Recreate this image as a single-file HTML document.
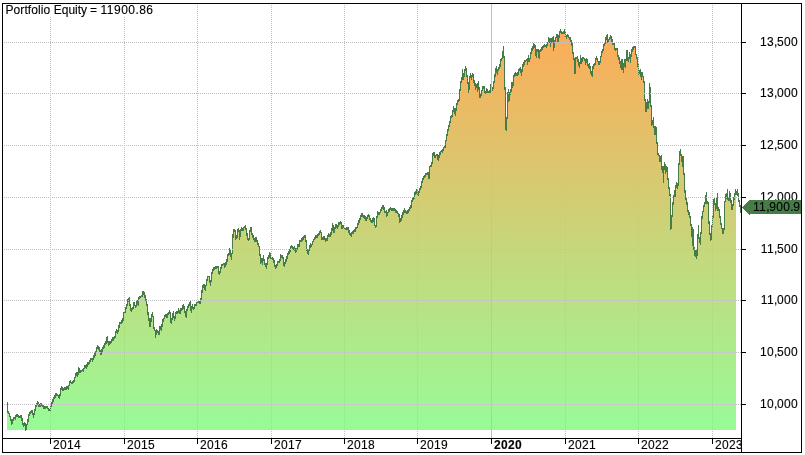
<!DOCTYPE html>
<html><head><meta charset="utf-8"><title>Portfolio Equity</title>
<style>
html,body{margin:0;padding:0;background:#fff;}
body{width:805px;height:455px;overflow:hidden;position:relative;}
svg{position:absolute;left:0;top:0;display:block;}
text{font-family:"Liberation Sans",Arial,sans-serif;font-size:12px;fill:#000;stroke:#000;stroke-width:0.12px;}
.n{letter-spacing:0.33px;}
</style></head><body>
<svg width="805" height="455" viewBox="0 0 805 455">
<defs>
<linearGradient id="g" gradientUnits="userSpaceOnUse" x1="0" y1="29" x2="0" y2="430">
<stop offset="0" stop-color="rgb(254,171,88)"/><stop offset="1" stop-color="rgb(152,251,152)"/>
</linearGradient>
<clipPath id="cx"><rect x="3" y="439" width="738" height="13"/></clipPath>
</defs>
<rect x="0" y="0" width="805" height="455" fill="#fff"/>
<polygon shape-rendering="crispEdges" fill="url(#g)" points="7,430 7,402 8,402 8,411 9,411 9,413 10,413 10,416 11,416 11,419 12,419 12,419 13,419 13,417 14,417 14,417 15,417 15,415 16,415 16,414 17,414 17,414 18,414 18,415 19,415 19,416 20,416 20,415 21,415 21,415 22,415 22,418 23,418 23,423 24,423 24,422 25,422 25,423 26,423 26,424 27,424 27,419 28,419 28,414 29,414 29,412 30,412 30,411 31,411 31,410 32,410 32,410 33,410 33,413 34,413 34,409 35,409 35,405 36,405 36,403 37,403 37,401 38,401 38,402 39,402 39,404 40,404 40,403 41,403 41,403 42,403 42,404 43,404 43,405 44,405 44,406 45,406 45,406 46,406 46,406 47,406 47,406 48,406 48,408 49,408 49,409 50,409 50,405 51,405 51,402 52,402 52,399 53,399 53,397 54,397 54,395 55,395 55,393 56,393 56,393 57,393 57,394 58,394 58,395 59,395 59,394 60,394 60,388 61,388 61,386 62,386 62,387 63,387 63,388 64,388 64,387 65,387 65,387 66,387 66,386 67,386 67,386 68,386 68,385 69,385 69,381 70,381 70,380 71,380 71,382 72,382 72,381 73,381 73,380 74,380 74,377 75,377 75,373 76,373 76,372 77,372 77,372 78,372 78,367 79,367 79,368 80,368 80,370 81,370 81,370 82,370 82,369 83,369 83,368 84,368 84,365 85,365 85,365 86,365 86,364 87,364 87,362 88,362 88,362 89,362 89,360 90,360 90,358 91,358 91,358 92,358 92,358 93,358 93,355 94,355 94,353 95,353 95,351 96,351 96,347 97,347 97,345 98,345 98,346 99,346 99,347 100,347 100,350 101,350 101,349 102,349 102,347 103,347 103,345 104,345 104,343 105,343 105,341 106,341 106,337 107,337 107,336 108,336 108,341 109,341 109,341 110,341 110,341 111,341 111,339 112,339 112,337 113,337 113,337 114,337 114,336 115,336 115,331 116,331 116,329 117,329 117,330 118,330 118,325 119,325 119,322 120,322 120,322 121,322 121,320 122,320 122,318 123,318 123,312 124,312 124,311 125,311 125,307 126,307 126,304 127,304 127,299 128,299 128,298 129,298 129,297 130,297 130,304 131,304 131,308 132,308 132,307 133,307 133,302 134,302 134,302 135,302 135,305 136,305 136,301 137,301 137,300 138,300 138,297 139,297 139,296 140,296 140,296 141,296 141,295 142,295 142,291 143,291 143,291 144,291 144,292 145,292 145,295 146,295 146,299 147,299 147,304 148,304 148,312 149,312 149,318 150,318 150,318 151,318 151,314 152,314 152,312 153,312 153,316 154,316 154,327 155,327 155,330 156,330 156,329 157,329 157,330 158,330 158,331 159,331 159,326 160,326 160,326 161,326 161,324 162,324 162,319 163,319 163,318 164,318 164,315 165,315 165,314 166,314 166,314 167,314 167,313 168,313 168,312 169,312 169,310 170,310 170,312 171,312 171,318 172,318 172,313 173,313 173,311 174,311 174,316 175,316 175,312 176,312 176,311 177,311 177,311 178,311 178,308 179,308 179,310 180,310 180,308 181,308 181,308 182,308 182,305 183,305 183,304 184,304 184,306 185,306 185,311 186,311 186,309 187,309 187,306 188,306 188,304 189,304 189,302 190,302 190,301 191,301 191,306 192,306 192,304 193,304 193,307 194,307 194,304 195,304 195,304 196,304 196,302 197,302 197,301 198,301 198,300 199,300 199,301 200,301 200,298 201,298 201,290 202,290 202,285 203,285 203,284 204,284 204,284 205,284 205,285 206,285 206,279 207,279 207,276 208,276 208,276 209,276 209,276 210,276 210,280 211,280 211,272 212,272 212,269 213,269 213,267 214,267 214,267 215,267 215,266 216,266 216,266 217,266 217,266 218,266 218,266 219,266 219,271 220,271 220,267 221,267 221,264 222,264 222,264 223,264 223,263 224,263 224,263 225,263 225,262 226,262 226,259 227,259 227,254 228,254 228,253 229,253 229,248 230,248 230,250 231,250 231,253 232,253 232,234 233,234 233,229 234,229 234,229 235,229 235,230 236,230 236,235 237,235 237,229 238,229 238,228 239,228 239,230 240,230 240,229 241,229 241,227 242,227 242,228 243,228 243,227 244,227 244,226 245,226 245,225 246,225 246,228 247,228 247,233 248,233 248,238 249,238 249,230 250,230 250,227 251,227 251,227 252,227 252,233 253,233 253,235 254,235 254,238 255,238 255,237 256,237 256,237 257,237 257,240 258,240 258,243 259,243 259,246 260,246 260,254 261,254 261,258 262,258 262,258 263,258 263,255 264,255 264,259 265,259 265,263 266,263 266,263 267,263 267,257 268,257 268,255 269,255 269,252 270,252 270,253 271,253 271,257 272,257 272,257 273,257 273,258 274,258 274,260 275,260 275,265 276,265 276,264 277,264 277,261 278,261 278,261 279,261 279,259 280,259 280,254 281,254 281,255 282,255 282,255 283,255 283,257 284,257 284,262 285,262 285,259 286,259 286,256 287,256 287,253 288,253 288,251 289,251 289,249 290,249 290,246 291,246 291,245 292,245 292,246 293,246 293,247 294,247 294,246 295,246 295,248 296,248 296,248 297,248 297,244 298,244 298,244 299,244 299,240 300,240 300,240 301,240 301,238 302,238 302,237 303,237 303,236 304,236 304,235 305,235 305,235 306,235 306,240 307,240 307,249 308,249 308,249 309,249 309,245 310,245 310,243 311,243 311,244 312,244 312,241 313,241 313,239 314,239 314,237 315,237 315,235 316,235 316,235 317,235 317,234 318,234 318,233 319,233 319,231 320,231 320,230 321,230 321,232 322,232 322,237 323,237 323,236 324,236 324,236 325,236 325,238 326,238 326,238 327,238 327,235 328,235 328,233 329,233 329,234 330,234 330,232 331,232 331,228 332,228 332,223 333,223 333,225 334,225 334,227 335,227 335,224 336,224 336,224 337,224 337,225 338,225 338,222 339,222 339,222 340,222 340,221 341,221 341,222 342,222 342,225 343,225 343,225 344,225 344,227 345,227 345,228 346,228 346,227 347,227 347,227 348,227 348,227 349,227 349,230 350,230 350,233 351,233 351,232 352,232 352,231 353,231 353,230 354,230 354,229 355,229 355,227 356,227 356,227 357,227 357,223 358,223 358,220 359,220 359,218 360,218 360,215 361,215 361,213 362,213 362,213 363,213 363,215 364,215 364,215 365,215 365,216 366,216 366,217 367,217 367,215 368,215 368,214 369,214 369,215 370,215 370,218 371,218 371,220 372,220 372,218 373,218 373,217 374,217 374,218 375,218 375,225 376,225 376,216 377,216 377,211 378,211 378,212 379,212 379,212 380,212 380,209 381,209 381,207 382,207 382,205 383,205 383,205 384,205 384,207 385,207 385,211 386,211 386,210 387,210 387,212 388,212 388,209 389,209 389,208 390,208 390,207 391,207 391,208 392,208 392,208 393,208 393,208 394,208 394,208 395,208 395,209 396,209 396,210 397,210 397,211 398,211 398,213 399,213 399,214 400,214 400,218 401,218 401,215 402,215 402,212 403,212 403,210 404,210 404,208 405,208 405,210 406,210 406,211 407,211 407,210 408,210 408,209 409,209 409,207 410,207 410,205 411,205 411,200 412,200 412,198 413,198 413,197 414,197 414,192 415,192 415,191 416,191 416,189 417,189 417,190 418,190 418,191 419,191 419,188 420,188 420,186 421,186 421,181 422,181 422,178 423,178 423,176 424,176 424,175 425,175 425,173 426,173 426,173 427,173 427,172 428,172 428,172 429,172 429,166 430,166 430,165 431,165 431,162 432,162 432,153 433,153 433,152 434,152 434,152 435,152 435,155 436,155 436,154 437,154 437,154 438,154 438,155 439,155 439,152 440,152 440,151 441,151 441,150 442,150 442,149 443,149 443,147 444,147 444,146 445,146 445,140 446,140 446,134 447,134 447,129 448,129 448,125 449,125 449,121 450,121 450,116 451,116 451,115 452,115 452,110 453,110 453,106 454,106 454,108 455,108 455,108 456,108 456,103 457,103 457,100 458,100 458,99 459,99 459,89 460,89 460,81 461,81 461,77 462,77 462,69 463,69 463,73 464,73 464,69 465,69 465,66 466,66 466,68 467,68 467,75 468,75 468,82 469,82 469,76 470,76 470,73 471,73 471,75 472,75 472,73 473,73 473,74 474,74 474,80 475,80 475,83 476,83 476,84 477,84 477,83 478,83 478,81 479,81 479,87 480,87 480,93 481,93 481,90 482,90 482,86 483,86 483,86 484,86 484,86 485,86 485,91 486,91 486,88 487,88 487,89 488,89 488,91 489,91 489,90 490,90 490,84 491,84 491,86 492,86 492,87 493,87 493,81 494,81 494,74 495,74 495,68 496,68 496,66 497,66 497,69 498,69 498,67 499,67 499,64 500,64 500,59 501,59 501,58 502,58 502,51 503,51 503,46 504,46 504,56 505,56 505,87 506,87 506,117 507,117 507,92 508,92 508,89 509,89 509,92 510,92 510,89 511,89 511,82 512,82 512,82 513,82 513,75 514,75 514,73 515,73 515,72 516,72 516,73 517,73 517,72 518,72 518,69 519,69 519,68 520,68 520,67 521,67 521,69 522,69 522,64 523,64 523,62 524,62 524,60 525,60 525,60 526,60 526,59 527,59 527,58 528,58 528,55 529,55 529,58 530,58 530,52 531,52 531,48 532,48 532,46 533,46 533,43 534,43 534,44 535,44 535,45 536,45 536,49 537,49 537,49 538,49 538,49 539,49 539,50 540,50 540,49 541,49 541,47 542,47 542,46 543,46 543,45 544,45 544,44 545,44 545,45 546,45 546,44 547,44 547,42 548,42 548,37 549,37 549,38 550,38 550,38 551,38 551,38 552,38 552,37 553,37 553,36 554,36 554,40 555,40 555,37 556,37 556,34 557,34 557,34 558,34 558,35 559,35 559,31 560,31 560,29 561,29 561,31 562,31 562,32 563,32 563,31 564,31 564,29 565,29 565,32 566,32 566,35 567,35 567,34 568,34 568,35 569,35 569,37 570,37 570,37 571,37 571,40 572,40 572,43 573,43 573,52 574,52 574,58 575,58 575,57 576,57 576,57 577,57 577,56 578,56 578,59 579,59 579,62 580,62 580,55 581,55 581,58 582,58 582,57 583,57 583,57 584,57 584,58 585,58 585,59 586,59 586,58 587,58 587,59 588,59 588,64 589,64 589,63 590,63 590,66 591,66 591,71 592,71 592,66 593,66 593,64 594,64 594,63 595,63 595,58 596,58 596,56 597,56 597,58 598,58 598,61 599,61 599,61 600,61 600,56 601,56 601,51 602,51 602,49 603,49 603,44 604,44 604,42 605,42 605,37 606,37 606,35 607,35 607,34 608,34 608,39 609,39 609,37 610,37 610,35 611,35 611,36 612,36 612,39 613,39 613,43 614,43 614,43 615,43 615,48 616,48 616,48 617,48 617,48 618,48 618,55 619,55 619,57 620,57 620,61 621,61 621,59 622,59 622,59 623,59 623,63 624,63 624,59 625,59 625,59 626,59 626,50 627,50 627,50 628,50 628,57 629,57 629,52 630,52 630,54 631,54 631,49 632,49 632,47 633,47 633,46 634,46 634,46 635,46 635,46 636,46 636,54 637,54 637,57 638,57 638,64 639,64 639,70 640,70 640,69 641,69 641,72 642,72 642,72 643,72 643,76 644,76 644,81 645,81 645,99 646,99 646,102 647,102 647,99 648,99 648,101 649,101 649,83 650,83 650,87 651,87 651,105 652,105 652,120 653,120 653,117 654,117 654,126 655,126 655,126 656,126 656,127 657,127 657,142 658,142 658,153 659,153 659,155 660,155 660,156 661,156 661,155 662,155 662,166 663,166 663,166 664,166 664,162 665,162 665,164 666,164 666,166 667,166 667,167 668,167 668,178 669,178 669,187 670,187 670,194 671,194 671,215 672,215 672,202 673,202 673,195 674,195 674,190 675,190 675,185 676,185 676,182 677,182 677,183 678,183 678,163 679,163 679,151 680,151 680,149 681,149 681,154 682,154 682,156 683,156 683,156 684,156 684,173 685,173 685,190 686,190 686,198 687,198 687,202 688,202 688,210 689,210 689,212 690,212 690,216 691,216 691,224 692,224 692,227 693,227 693,229 694,229 694,247 695,247 695,250 696,250 696,250 697,250 697,234 698,234 698,225 699,225 699,237 700,237 700,232 701,232 701,216 702,216 702,211 703,211 703,205 704,205 704,202 705,202 705,195 706,195 706,192 707,192 707,201 708,201 708,202 709,202 709,221 710,221 710,233 711,233 711,225 712,225 712,216 713,216 713,199 714,199 714,198 715,198 715,203 716,203 716,198 717,198 717,193 718,193 718,207 719,207 719,209 720,209 720,216 721,216 721,223 722,223 722,228 723,228 723,228 724,228 724,201 725,201 725,194 726,194 726,193 727,193 727,189 728,189 728,197 729,197 729,191 730,191 730,193 731,193 731,200 732,200 732,204 733,204 733,197 734,197 734,193 735,193 735,189 736,189 736,430"/>
<path shape-rendering="crispEdges" fill="none" stroke="#457c47" stroke-width="1" d="M7.5 402v11M8.5 411v3M9.5 413v4M10.5 416v5M11.5 419v6M12.5 419v5M13.5 417v4M14.5 417v2M15.5 415v5M16.5 414v3M17.5 414v3M18.5 415v3M19.5 416v2M20.5 415v3M21.5 415v6M22.5 418v7M23.5 423v4M24.5 422v4M25.5 423v8M26.5 424v6M27.5 419v6M28.5 414v8M29.5 412v4M30.5 411v3M31.5 410v3M32.5 410v5M33.5 413v5M34.5 409v6M35.5 405v6M36.5 403v4M37.5 401v4M38.5 402v5M39.5 404v3M40.5 403v4M41.5 403v3M42.5 404v3M43.5 405v4M44.5 406v3M45.5 406v3M46.5 406v2M47.5 406v3M48.5 408v3M49.5 409v2M50.5 405v7M51.5 402v5M52.5 399v5M53.5 397v5M54.5 395v4M55.5 393v5M56.5 393v3M57.5 394v2M58.5 395v3M59.5 394v5M60.5 388v8M61.5 386v4M62.5 387v4M63.5 388v3M64.5 387v3M65.5 387v3M66.5 386v4M67.5 386v3M68.5 385v5M69.5 381v5M70.5 380v3M71.5 382v2M72.5 381v3M73.5 380v3M74.5 377v5M75.5 373v5M76.5 372v4M77.5 372v5M78.5 367v8M79.5 368v5M80.5 370v3M81.5 370v2M82.5 369v2M83.5 368v4M84.5 365v4M85.5 365v3M86.5 364v5M87.5 362v5M88.5 362v3M89.5 360v4M90.5 358v4M91.5 358v2M92.5 358v4M93.5 355v5M94.5 353v5M95.5 351v5M96.5 347v5M97.5 345v4M98.5 346v4M99.5 347v5M100.5 350v5M101.5 349v6M102.5 347v5M103.5 345v4M104.5 343v5M105.5 341v4M106.5 337v7M107.5 336v7M108.5 341v5M109.5 341v4M110.5 341v3M111.5 339v4M112.5 337v4M113.5 337v4M114.5 336v3M115.5 331v7M116.5 329v4M117.5 330v4M118.5 325v7M119.5 322v6M120.5 322v2M121.5 320v4M122.5 318v5M123.5 312v9M124.5 311v3M125.5 307v6M126.5 304v5M127.5 299v7M128.5 298v4M129.5 297v9M130.5 304v7M131.5 308v4M132.5 307v3M133.5 302v7M134.5 302v4M135.5 305v3M136.5 301v6M137.5 300v5M138.5 297v9M139.5 296v3M140.5 296v2M141.5 295v2M142.5 291v6M143.5 291v4M144.5 292v6M145.5 295v6M146.5 299v7M147.5 304v11M148.5 312v9M149.5 318v9M150.5 318v9M151.5 314v8M152.5 312v5M153.5 316v13M154.5 327v4M155.5 330v8M156.5 329v6M157.5 330v3M158.5 331v4M159.5 326v9M160.5 326v4M161.5 324v7M162.5 319v8M163.5 318v4M164.5 315v4M165.5 314v3M166.5 314v4M167.5 313v5M168.5 312v3M169.5 310v4M170.5 312v11M171.5 318v6M172.5 313v7M173.5 311v7M174.5 316v5M175.5 312v7M176.5 311v3M177.5 311v3M178.5 308v5M179.5 310v4M180.5 308v6M181.5 308v3M182.5 305v5M183.5 304v5M184.5 306v7M185.5 311v6M186.5 309v9M187.5 306v5M188.5 304v4M189.5 302v4M190.5 301v10M191.5 306v7M192.5 304v5M193.5 307v3M194.5 304v5M195.5 304v2M196.5 302v4M197.5 301v3M198.5 300v3M199.5 301v3M200.5 298v6M201.5 290v10M202.5 285v8M203.5 284v4M204.5 284v6M205.5 285v6M206.5 279v7M207.5 276v5M208.5 276v1M209.5 276v7M210.5 280v6M211.5 272v10M212.5 269v5M213.5 267v4M214.5 267v3M215.5 266v3M216.5 266v3M217.5 266v2M218.5 266v8M219.5 271v4M220.5 267v6M221.5 264v5M222.5 264v2M223.5 263v2M224.5 263v5M225.5 262v5M226.5 259v6M227.5 254v8M228.5 253v3M229.5 248v7M230.5 250v7M231.5 253v7M232.5 234v20M233.5 229v9M234.5 229v3M235.5 230v10M236.5 235v4M237.5 229v9M238.5 228v4M239.5 230v10M240.5 229v8M241.5 227v4M242.5 228v3M243.5 227v4M244.5 226v2M245.5 225v5M246.5 228v8M247.5 233v7M248.5 238v3M249.5 230v10M250.5 227v5M251.5 227v8M252.5 233v5M253.5 235v5M254.5 238v4M255.5 237v5M256.5 237v5M257.5 240v5M258.5 243v4M259.5 246v10M260.5 254v10M261.5 258v5M262.5 258v7M263.5 255v6M264.5 259v6M265.5 263v4M266.5 263v6M267.5 257v8M268.5 255v4M269.5 252v6M270.5 253v6M271.5 257v3M272.5 257v3M273.5 258v5M274.5 260v7M275.5 265v4M276.5 264v4M277.5 261v5M278.5 261v2M279.5 259v4M280.5 254v7M281.5 255v3M282.5 255v4M283.5 257v9M284.5 262v5M285.5 259v5M286.5 256v6M287.5 253v6M288.5 251v4M289.5 249v5M290.5 246v6M291.5 245v3M292.5 246v3M293.5 247v3M294.5 246v5M295.5 248v5M296.5 248v4M297.5 244v6M298.5 244v3M299.5 240v7M300.5 240v2M301.5 238v4M302.5 237v4M303.5 236v4M304.5 235v3M305.5 235v7M306.5 240v11M307.5 249v5M308.5 249v6M309.5 245v6M310.5 243v5M311.5 244v3M312.5 241v4M313.5 239v3M314.5 237v3M315.5 235v4M316.5 235v3M317.5 234v4M318.5 233v3M319.5 231v4M320.5 230v3M321.5 232v8M322.5 237v3M323.5 236v4M324.5 236v4M325.5 238v4M326.5 238v3M327.5 235v6M328.5 233v4M329.5 234v3M330.5 232v5M331.5 228v7M332.5 223v8M333.5 225v8M334.5 227v6M335.5 224v5M336.5 224v4M337.5 225v4M338.5 222v5M339.5 222v3M340.5 221v3M341.5 222v7M342.5 225v4M343.5 225v3M344.5 227v3M345.5 228v2M346.5 227v3M347.5 227v3M348.5 227v6M349.5 230v5M350.5 233v3M351.5 232v5M352.5 231v3M353.5 230v4M354.5 229v3M355.5 227v5M356.5 227v2M357.5 223v5M358.5 220v5M359.5 218v5M360.5 215v5M361.5 213v4M362.5 213v4M363.5 215v3M364.5 215v4M365.5 216v5M366.5 217v4M367.5 215v4M368.5 214v3M369.5 215v5M370.5 218v4M371.5 220v3M372.5 218v5M373.5 217v5M374.5 218v8M375.5 225v3M376.5 216v11M377.5 211v7M378.5 212v3M379.5 212v3M380.5 209v4M381.5 207v4M382.5 205v4M383.5 205v5M384.5 207v6M385.5 211v2M386.5 210v7M387.5 212v4M388.5 209v4M389.5 208v4M390.5 207v3M391.5 208v3M392.5 208v3M393.5 208v3M394.5 208v3M395.5 209v4M396.5 210v3M397.5 211v3M398.5 213v4M399.5 214v9M400.5 218v4M401.5 215v6M402.5 212v6M403.5 210v5M404.5 208v5M405.5 210v3M406.5 211v3M407.5 210v4M408.5 209v4M409.5 207v4M410.5 205v4M411.5 200v8M412.5 198v4M413.5 197v3M414.5 192v7M415.5 191v4M416.5 189v5M417.5 190v6M418.5 191v5M419.5 188v5M420.5 186v4M421.5 181v7M422.5 178v5M423.5 176v4M424.5 175v3M425.5 173v4M426.5 173v2M427.5 172v3M428.5 172v7M429.5 166v13M430.5 165v2M431.5 162v5M432.5 153v11M433.5 152v4M434.5 152v6M435.5 155v3M436.5 154v2M437.5 154v6M438.5 155v6M439.5 152v6M440.5 151v4M441.5 150v2M442.5 149v4M443.5 147v4M444.5 146v2M445.5 140v8M446.5 134v7M447.5 129v7M448.5 125v6M449.5 121v6M450.5 116v7M451.5 115v3M452.5 110v7M453.5 106v6M454.5 108v6M455.5 108v8M456.5 103v8M457.5 100v5M458.5 99v3M459.5 89v12M460.5 81v10M461.5 77v6M462.5 69v11M463.5 73v7M464.5 69v8M465.5 66v5M466.5 68v9M467.5 75v9M468.5 82v11M469.5 76v14M470.5 73v5M471.5 75v5M472.5 73v4M473.5 74v9M474.5 80v6M475.5 83v7M476.5 84v4M477.5 83v9M478.5 81v9M479.5 87v11M480.5 93v5M481.5 90v6M482.5 86v5M483.5 86v3M484.5 86v7M485.5 91v3M486.5 88v6M487.5 89v4M488.5 91v2M489.5 90v3M490.5 84v9M491.5 86v5M492.5 87v4M493.5 81v8M494.5 74v9M495.5 68v9M496.5 66v7M497.5 69v6M498.5 67v4M499.5 64v5M500.5 59v8M501.5 58v3M502.5 51v8M503.5 46v12M504.5 56v34M505.5 87v43M506.5 117v14M507.5 92v27M508.5 89v13M509.5 92v9M510.5 89v6M511.5 82v10M512.5 82v6M513.5 75v11M514.5 73v4M515.5 72v4M516.5 73v3M517.5 72v4M518.5 69v6M519.5 68v3M520.5 67v6M521.5 69v7M522.5 64v8M523.5 62v5M524.5 60v5M525.5 60v2M526.5 59v2M527.5 58v7M528.5 55v7M529.5 58v4M530.5 52v7M531.5 48v6M532.5 46v5M533.5 43v6M534.5 44v4M535.5 45v11M536.5 49v9M537.5 49v3M538.5 49v9M539.5 50v9M540.5 49v3M541.5 47v4M542.5 46v4M543.5 45v3M544.5 44v3M545.5 45v2M546.5 44v4M547.5 42v4M548.5 37v6M549.5 38v5M550.5 38v9M551.5 38v5M552.5 37v6M553.5 36v15M554.5 40v8M555.5 37v5M556.5 34v4M557.5 34v8M558.5 35v7M559.5 31v7M560.5 29v4M561.5 31v3M562.5 32v2M563.5 31v3M564.5 29v5M565.5 32v5M566.5 35v4M567.5 34v3M568.5 35v3M569.5 37v3M570.5 37v5M571.5 40v6M572.5 43v11M573.5 52v8M574.5 58v16M575.5 57v17M576.5 57v2M577.5 56v6M578.5 59v7M579.5 62v6M580.5 55v9M581.5 58v6M582.5 57v5M583.5 57v2M584.5 58v3M585.5 59v6M586.5 58v5M587.5 59v7M588.5 64v4M589.5 63v6M590.5 66v8M591.5 71v5M592.5 66v11M593.5 64v5M594.5 63v3M595.5 58v7M596.5 56v4M597.5 58v4M598.5 61v4M599.5 61v4M600.5 56v7M601.5 51v6M602.5 49v4M603.5 44v7M604.5 42v4M605.5 37v7M606.5 35v5M607.5 34v9M608.5 39v3M609.5 37v3M610.5 35v4M611.5 36v6M612.5 39v6M613.5 43v2M614.5 43v7M615.5 48v3M616.5 48v2M617.5 48v9M618.5 55v5M619.5 57v7M620.5 61v7M621.5 59v11M622.5 59v11M623.5 63v10M624.5 59v8M625.5 59v9M626.5 50v11M627.5 50v11M628.5 57v5M629.5 52v7M630.5 54v9M631.5 49v8M632.5 47v5M633.5 46v4M634.5 46v2M635.5 46v9M636.5 54v5M637.5 57v10M638.5 64v11M639.5 70v4M640.5 69v8M641.5 72v8M642.5 72v5M643.5 76v7M644.5 81v20M645.5 99v13M646.5 102v10M647.5 99v10M648.5 101v8M649.5 83v20M650.5 87v20M651.5 105v21M652.5 120v5M653.5 117v11M654.5 126v9M655.5 126v9M656.5 127v17M657.5 142v13M658.5 153v3M659.5 155v7M660.5 156v6M661.5 155v15M662.5 166v7M663.5 166v17M664.5 162v8M665.5 164v10M666.5 166v6M667.5 167v13M668.5 178v11M669.5 187v9M670.5 194v36M671.5 215v14M672.5 202v15M673.5 195v10M674.5 190v7M675.5 185v12M676.5 182v6M677.5 183v6M678.5 163v23M679.5 151v14M680.5 149v7M681.5 154v8M682.5 156v11M683.5 156v19M684.5 173v20M685.5 190v10M686.5 198v7M687.5 202v10M688.5 210v5M689.5 212v6M690.5 216v10M691.5 224v13M692.5 227v19M693.5 229v21M694.5 247v9M695.5 250v7M696.5 250v9M697.5 234v22M698.5 225v14M699.5 237v6M700.5 232v13M701.5 216v18M702.5 211v8M703.5 205v7M704.5 202v5M705.5 195v9M706.5 192v12M707.5 201v3M708.5 202v22M709.5 221v14M710.5 233v8M711.5 225v15M712.5 216v11M713.5 199v19M714.5 198v7M715.5 203v8M716.5 198v11M717.5 193v18M718.5 207v4M719.5 209v9M720.5 216v9M721.5 223v6M722.5 228v6M723.5 228v6M724.5 201v29M725.5 194v8M726.5 193v6M727.5 189v11M728.5 197v4M729.5 191v10M730.5 193v10M731.5 200v10M732.5 204v6M733.5 197v9M734.5 193v7M735.5 189v6M736.5 191v4M737.5 189v7M738.5 193v9M739.5 200v7M740.5 205v8"/>
<g shape-rendering="crispEdges" stroke="#c0c0c0" stroke-width="1" stroke-dasharray="1 1" fill="none">
<line x1="4" y1="42.5" x2="741" y2="42.5"/>
<line x1="4" y1="93.5" x2="741" y2="93.5"/>
<line x1="4" y1="145.5" x2="741" y2="145.5"/>
<line x1="4" y1="197.5" x2="741" y2="197.5"/>
<line x1="4" y1="249.5" x2="741" y2="249.5"/>
<line x1="4" y1="300.5" x2="741" y2="300.5"/>
<line x1="4" y1="352.5" x2="741" y2="352.5"/>
<line x1="4" y1="404.5" x2="741" y2="404.5"/>
<line x1="50.5" y1="5" x2="50.5" y2="438"/>
<line x1="124.5" y1="5" x2="124.5" y2="438"/>
<line x1="197.5" y1="5" x2="197.5" y2="438"/>
<line x1="271.5" y1="5" x2="271.5" y2="438"/>
<line x1="344.5" y1="5" x2="344.5" y2="438"/>
<line x1="417.5" y1="5" x2="417.5" y2="438"/>
<line x1="565.5" y1="5" x2="565.5" y2="438"/>
<line x1="638.5" y1="5" x2="638.5" y2="438"/>
<line x1="712.5" y1="5" x2="712.5" y2="438"/>
</g>
<line shape-rendering="crispEdges" stroke="#c0c0c0" stroke-width="1" x1="491.5" y1="4" x2="491.5" y2="438"/>
<g shape-rendering="crispEdges" stroke="#000" stroke-width="1" fill="none">
<line x1="741.5" y1="4" x2="741.5" y2="452"/>
<line x1="3" y1="438.5" x2="741" y2="438.5"/>
<line x1="742" y1="42.5" x2="746" y2="42.5"/>
<line x1="742" y1="93.5" x2="746" y2="93.5"/>
<line x1="742" y1="145.5" x2="746" y2="145.5"/>
<line x1="742" y1="197.5" x2="746" y2="197.5"/>
<line x1="742" y1="249.5" x2="746" y2="249.5"/>
<line x1="742" y1="300.5" x2="746" y2="300.5"/>
<line x1="742" y1="352.5" x2="746" y2="352.5"/>
<line x1="742" y1="404.5" x2="746" y2="404.5"/>
<line x1="50.5" y1="439" x2="50.5" y2="444"/>
<line x1="124.5" y1="439" x2="124.5" y2="444"/>
<line x1="197.5" y1="439" x2="197.5" y2="444"/>
<line x1="271.5" y1="439" x2="271.5" y2="444"/>
<line x1="344.5" y1="439" x2="344.5" y2="444"/>
<line x1="417.5" y1="439" x2="417.5" y2="444"/>
<line x1="491.5" y1="439" x2="491.5" y2="444"/>
<line x1="565.5" y1="439" x2="565.5" y2="444"/>
<line x1="638.5" y1="439" x2="638.5" y2="444"/>
<line x1="712.5" y1="439" x2="712.5" y2="444"/>
</g>
<rect x="4" y="4" width="150" height="13" fill="#fff"/>
<text y="14"><tspan x="5.5" letter-spacing="0.07">Portfolio</tspan> <tspan x="53.75">Equity</tspan> <tspan x="90.1">=</tspan> <tspan x="100.6" letter-spacing="0.47">11900.86</tspan></text>
<text class="n" x="798" y="45.8" text-anchor="end">13<tspan letter-spacing="-0.3">,</tspan>500</text>
<text class="n" x="798" y="96.8" text-anchor="end">13<tspan letter-spacing="-0.3">,</tspan>000</text>
<text class="n" x="798" y="148.8" text-anchor="end">12<tspan letter-spacing="-0.3">,</tspan>500</text>
<text class="n" x="798" y="200.8" text-anchor="end">12<tspan letter-spacing="-0.3">,</tspan>000</text>
<text class="n" x="798" y="252.8" text-anchor="end">11<tspan letter-spacing="-0.3">,</tspan>500</text>
<text class="n" x="798" y="303.8" text-anchor="end">11<tspan letter-spacing="-0.3">,</tspan>000</text>
<text class="n" x="798" y="355.8" text-anchor="end">10<tspan letter-spacing="-0.3">,</tspan>500</text>
<text class="n" x="798" y="407.8" text-anchor="end">10<tspan letter-spacing="-0.3">,</tspan>000</text>
<g clip-path="url(#cx)">
<text class="n" x="53" y="449">2014</text>
<text class="n" x="127" y="449">2015</text>
<text class="n" x="200" y="449">2016</text>
<text class="n" x="274" y="449">2017</text>
<text class="n" x="347" y="449">2018</text>
<text class="n" x="420" y="449">2019</text>
<text class="n" x="494" y="449" font-weight="bold">2020</text>
<text class="n" x="568" y="449">2021</text>
<text class="n" x="641" y="449">2022</text>
<text class="n" x="715" y="449">2023</text>
</g>
<polygon shape-rendering="crispEdges" fill="#457c47" points="741.75,207.5 749.25,200 801,200 801,214 750,214 750,215 749.25,215"/>
<text class="n" x="753" y="211.3">11<tspan letter-spacing="-0.3">,</tspan>900<tspan letter-spacing="-0.3">.</tspan>9</text>
<rect shape-rendering="crispEdges" x="2.5" y="3.5" width="799" height="449" fill="none" stroke="#000" stroke-width="1"/>
</svg>
</body></html>
